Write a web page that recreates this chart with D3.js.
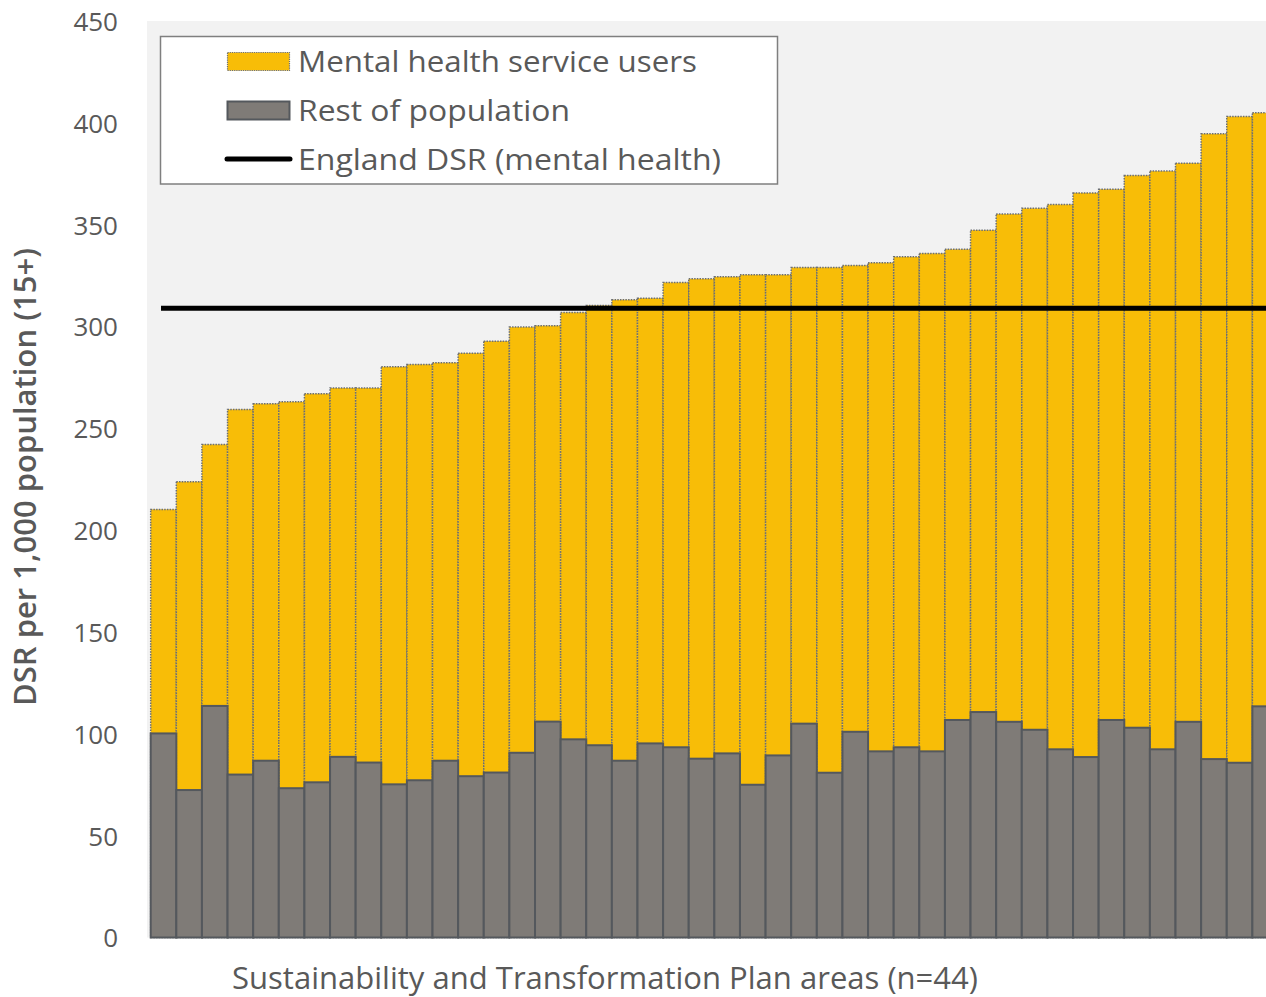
<!DOCTYPE html>
<html>
<head>
<meta charset="utf-8">
<script src="https://cdn.jsdelivr.net/npm/d3@7"></script>
<style>
  html, body { margin: 0; padding: 0; background: #ffffff; }
  svg { display: block; }
  text { font-family: "Open Sans", "Noto Sans", sans-serif; fill: #595959; }
</style>
</head>
<body>
<svg id="chart" width="1266" height="997"></svg>
<script>
// STP areas, ordered by mental health DSR
const areas = d3.range(1, 45).map(i => "STP " + i);

// Directly standardised rate per 1,000 population (15+), mental health service users
const mentalHealth = [
  210.2, 223.8, 242.1, 259.3, 262.1, 263.0, 267.0, 269.8, 269.8, 280.2,
  281.4, 282.2, 286.9, 292.8, 299.7, 300.4, 306.9, 310.3, 313.1, 313.9,
  321.6, 323.4, 324.4, 325.4, 325.4, 329.0, 329.0, 330.0, 331.3, 334.2,
  335.9, 337.9, 347.3, 355.2, 358.0, 359.9, 365.6, 367.4, 374.2, 376.3,
  380.2, 394.6, 403.1, 404.9
];

// Same rate for the rest of the population
const restOfPopulation = [
  100.2, 72.4, 113.7, 80.0, 86.8, 73.3, 76.2, 88.7, 85.9, 75.2,
  77.2, 86.8, 79.2, 81.0, 90.7, 106.0, 97.3, 94.4, 86.8, 95.3,
  93.4, 87.8, 90.4, 75.0, 89.4, 105.0, 80.9, 101.0, 91.4, 93.4,
  91.4, 106.8, 110.7, 105.9, 102.0, 92.4, 88.6, 106.8, 103.0, 92.4,
  105.9, 87.6, 85.8, 113.5
];

// England DSR for mental health service users
const englandDSR = 309.0;

const yTicks = [0, 50, 100, 150, 200, 250, 300, 350, 400, 450];

const seriesNames = ["Mental health service users", "Rest of population", "England DSR (mental health)"];

const colors = {
  mh: "#f8bd07",
  rest: "#7f7b77",
  restStroke: "#54585d",
  dotted: "#6b6e73",
  plotBg: "#f2f2f2"
};

const svg = d3.select("#chart");

const plot = { left: 150.7, right: 1278, top: 21, bottom: 937.5 };

const x = d3.scaleBand()
  .domain(areas)
  .range([plot.left, plot.right])
  .padding(0);

const y = d3.scaleLinear()
  .domain([0, 450])
  .range([plot.bottom, plot.top]);

// plot area background
svg.append("rect")
  .attr("x", 147)
  .attr("y", plot.top)
  .attr("width", 1266 - 147)
  .attr("height", plot.bottom - plot.top)
  .attr("fill", colors.plotBg);

// y axis labels only (no line, no ticks)
const yAxis = d3.axisLeft(y).tickValues(yTicks).tickSize(0).tickPadding(0);
const yg = svg.append("g")
  .attr("transform", "translate(118,0)")
  .call(yAxis);
yg.select(".domain").remove();
yg.selectAll("text")
  .attr("x", 0)
  .attr("dy", "0.36em")
  .style("font-size", "26px")
  .style("fill", "#595959")
  .style("font-family", "'Open Sans', sans-serif");

// mental health bars (back)
svg.append("g")
  .selectAll("rect")
  .data(mentalHealth)
  .join("rect")
  .attr("x", (d, i) => x(areas[i]))
  .attr("y", d => y(d))
  .attr("width", x.bandwidth())
  .attr("height", d => y(0) - y(d))
  .attr("fill", colors.mh)
  .attr("stroke", colors.dotted)
  .attr("stroke-width", 1.5)
  .attr("stroke-dasharray", "1.5,1.2");

// rest of population bars (front, fully overlapping)
svg.append("g")
  .selectAll("rect")
  .data(restOfPopulation)
  .join("rect")
  .attr("x", (d, i) => x(areas[i]))
  .attr("y", d => y(d))
  .attr("width", x.bandwidth())
  .attr("height", d => y(0) - y(d))
  .attr("fill", colors.rest)
  .attr("stroke", colors.restStroke)
  .attr("stroke-width", 2);

// England reference line, from first to last category centre
const cx = i => x(areas[i]) + x.bandwidth() / 2;
svg.append("line")
  .attr("x1", cx(0))
  .attr("x2", cx(areas.length - 1))
  .attr("y1", y(englandDSR))
  .attr("y2", y(englandDSR))
  .attr("stroke", "#000000")
  .attr("stroke-width", 5)
  .attr("stroke-linecap", "square");

// legend
const lg = svg.append("g");
lg.append("rect")
  .attr("x", 160.5).attr("y", 36.5)
  .attr("width", 617).attr("height", 147.5)
  .attr("fill", "#ffffff")
  .attr("stroke", "#7f7f7f")
  .attr("stroke-width", 1.5);

lg.append("rect")
  .attr("x", 227.5).attr("y", 52.5).attr("width", 62).attr("height", 18)
  .attr("fill", colors.mh)
  .attr("stroke", colors.dotted)
  .attr("stroke-width", 1.2)
  .attr("stroke-dasharray", "1.2,1");

lg.append("rect")
  .attr("x", 227.5).attr("y", 101.5).attr("width", 62).attr("height", 18)
  .attr("fill", colors.rest)
  .attr("stroke", colors.restStroke)
  .attr("stroke-width", 2);

lg.append("line")
  .attr("x1", 227).attr("x2", 290)
  .attr("y1", 159).attr("y2", 159)
  .attr("stroke", "#000")
  .attr("stroke-width", 5)
  .attr("stroke-linecap", "round");

const legendText = [
  { t: seriesNames[0], y: 72, w: 399 },
  { t: seriesNames[1], y: 121, w: 272 },
  { t: seriesNames[2], y: 170, w: 423 }
];
lg.selectAll("text.leg")
  .data(legendText)
  .join("text")
  .attr("class", "leg")
  .attr("x", 298)
  .attr("y", d => d.y)
  .attr("textLength", d => d.w)
  .attr("lengthAdjust", "spacingAndGlyphs")
  .style("font-size", "30px")
  .style("font-weight", "500")
  .text(d => d.t);

// axis titles
svg.append("text")
  .attr("transform", "translate(36,477) rotate(-90)")
  .attr("text-anchor", "middle")
  .attr("textLength", 458)
  .attr("lengthAdjust", "spacingAndGlyphs")
  .style("font-size", "31px")
  .style("font-weight", "600")
  .text("DSR per 1,000 population (15+)");

svg.append("text")
  .attr("x", 605)
  .attr("y", 989)
  .attr("text-anchor", "middle")
  .attr("textLength", 746)
  .attr("lengthAdjust", "spacingAndGlyphs")
  .style("font-size", "31px")
  .text("Sustainability and Transformation Plan areas (n=44)");
</script>
</body>
</html>
